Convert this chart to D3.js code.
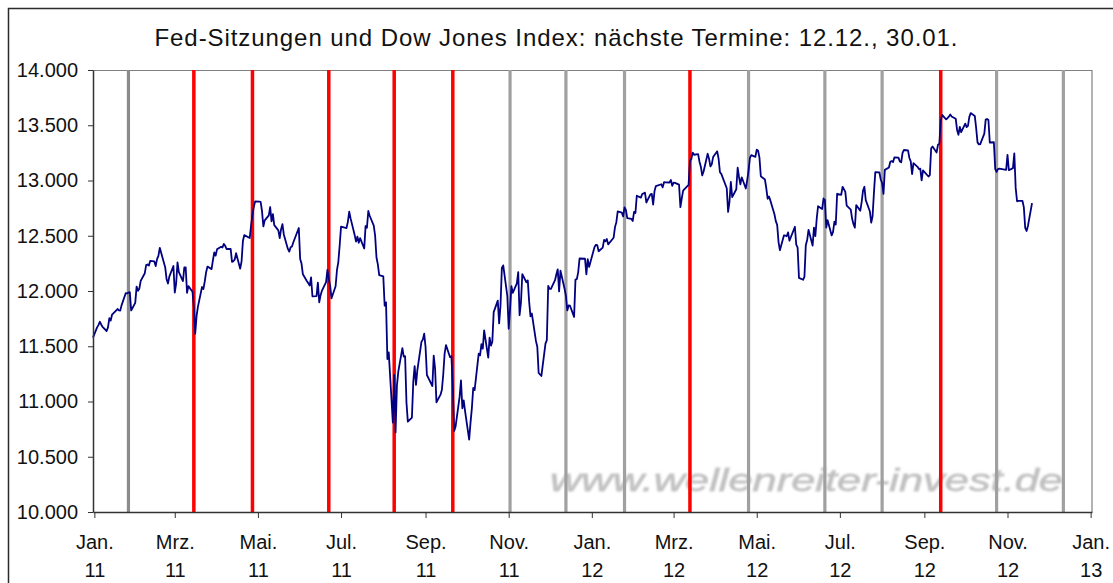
<!DOCTYPE html>
<html>
<head>
<meta charset="utf-8">
<script src="https://cdn.jsdelivr.net/npm/d3@7"></script>
<style>
  body { margin: 0; background: #fff; }
  svg { font-family: Arial, "Liberation Sans", sans-serif; }
</style>
</head>
<body>
<div id="chart"></div>
<script>
// chart title + watermark
var title = "Fed-Sitzungen und Dow Jones Index: nächste Termine: 12.12., 30.01.";
var watermark = "www.wellenreiter-invest.de";

// German month labels for the x axis
var monthNames = ["Jan.", "Feb.", "Mrz.", "Apr.", "Mai.", "Jun.", "Jul.", "Aug.", "Sep.", "Okt.", "Nov.", "Dez."];

// y axis ticks
var yTicks = [10000, 10500, 11000, 11500, 12000, 12500, 13000, 13500, 14000];

// FOMC meeting days
var fedMeetings = ["2011-01-26", "2011-03-15", "2011-04-27", "2011-06-22", "2011-08-09", "2011-09-21",
  "2011-11-02", "2011-12-13", "2012-01-25", "2012-03-13", "2012-04-25", "2012-06-20",
  "2012-08-01", "2012-09-13", "2012-10-24", "2012-12-12"];
// meetings marked red in the chart
var redMeetings = ["2011-03-15", "2011-04-27", "2011-06-22", "2011-08-09", "2011-09-21", "2012-03-13", "2012-09-13"];

// Dow Jones daily closes
var dow = [
  ["2010-12-31",11578],
  ["2011-01-03",11671],["2011-01-04",11691],["2011-01-05",11722],["2011-01-06",11697],["2011-01-07",11675],
  ["2011-01-10",11638],["2011-01-11",11671],["2011-01-12",11755],["2011-01-13",11732],["2011-01-14",11787],
  ["2011-01-18",11837],["2011-01-19",11825],["2011-01-20",11823],["2011-01-21",11872],["2011-01-24",11980],
  ["2011-01-25",11978],["2011-01-26",11985],["2011-01-27",11990],["2011-01-28",11824],["2011-01-31",11892],
  ["2011-02-01",12040],["2011-02-02",12002],["2011-02-03",12021],["2011-02-04",12092],["2011-02-07",12161],
  ["2011-02-08",12234],["2011-02-09",12240],["2011-02-10",12230],["2011-02-11",12273],["2011-02-14",12268],
  ["2011-02-15",12226],["2011-02-16",12288],["2011-02-17",12318],["2011-02-18",12391],["2011-02-22",12213],
  ["2011-02-23",12106],["2011-02-24",12068],["2011-02-25",12130],["2011-02-28",12226],
  ["2011-03-01",11986],["2011-03-02",12066],["2011-03-03",12258],["2011-03-04",12170],["2011-03-07",12090],
  ["2011-03-08",12214],["2011-03-09",12214],["2011-03-10",11984],["2011-03-11",12044],["2011-03-14",11993],
  ["2011-03-15",11855],["2011-03-16",11613],["2011-03-17",11775],["2011-03-18",11858],["2011-03-21",12036],
  ["2011-03-22",12018],["2011-03-23",12086],["2011-03-24",12170],["2011-03-25",12221],["2011-03-28",12198],
  ["2011-03-29",12280],["2011-03-30",12350],["2011-03-31",12320],
  ["2011-04-01",12377],["2011-04-04",12400],["2011-04-05",12394],["2011-04-06",12426],["2011-04-07",12409],
  ["2011-04-08",12380],["2011-04-11",12382],["2011-04-12",12263],["2011-04-13",12270],["2011-04-14",12285],
  ["2011-04-15",12342],["2011-04-18",12202],["2011-04-19",12267],["2011-04-20",12453],["2011-04-21",12506],
  ["2011-04-25",12480],["2011-04-26",12595],["2011-04-27",12690],["2011-04-28",12763],["2011-04-29",12811],
  ["2011-05-02",12808],["2011-05-03",12807],["2011-05-04",12724],["2011-05-05",12584],["2011-05-06",12639],
  ["2011-05-09",12684],["2011-05-10",12760],["2011-05-11",12630],["2011-05-12",12696],["2011-05-13",12596],
  ["2011-05-16",12549],["2011-05-17",12479],["2011-05-18",12560],["2011-05-19",12605],["2011-05-20",12512],
  ["2011-05-23",12381],["2011-05-24",12356],["2011-05-25",12395],["2011-05-26",12403],["2011-05-27",12441],
  ["2011-05-31",12570],
  ["2011-06-01",12290],["2011-06-02",12248],["2011-06-03",12151],["2011-06-06",12089],["2011-06-07",12070],
  ["2011-06-08",12049],["2011-06-09",12124],["2011-06-10",11952],["2011-06-13",11953],["2011-06-14",12076],
  ["2011-06-15",11898],["2011-06-16",11962],["2011-06-17",12004],["2011-06-20",12081],["2011-06-21",12191],
  ["2011-06-22",12110],["2011-06-23",12050],["2011-06-24",11934],["2011-06-27",12043],["2011-06-28",12188],
  ["2011-06-29",12262],["2011-06-30",12414],
  ["2011-07-01",12582],["2011-07-05",12570],["2011-07-06",12626],["2011-07-07",12719],["2011-07-08",12657],
  ["2011-07-11",12506],["2011-07-12",12447],["2011-07-13",12492],["2011-07-14",12437],["2011-07-15",12479],
  ["2011-07-18",12385],["2011-07-19",12588],["2011-07-20",12572],["2011-07-21",12724],["2011-07-22",12681],
  ["2011-07-25",12592],["2011-07-26",12501],["2011-07-27",12303],["2011-07-28",12241],["2011-07-29",12143],
  ["2011-08-01",12132],["2011-08-02",11867],["2011-08-03",11897],["2011-08-04",11384],["2011-08-05",11445],
  ["2011-08-08",10810],["2011-08-09",11240],["2011-08-10",10720],["2011-08-11",11144],["2011-08-12",11270],
  ["2011-08-15",11483],["2011-08-16",11406],["2011-08-17",11410],["2011-08-18",10991],["2011-08-19",10818],
  ["2011-08-22",10855],["2011-08-23",11177],["2011-08-24",11321],["2011-08-25",11150],["2011-08-26",11285],
  ["2011-08-29",11540],["2011-08-30",11560],["2011-08-31",11614],
  ["2011-09-01",11494],["2011-09-02",11240],["2011-09-06",11140],["2011-09-07",11415],["2011-09-08",11296],
  ["2011-09-09",10993],["2011-09-12",11062],["2011-09-13",11106],["2011-09-14",11247],["2011-09-15",11434],
  ["2011-09-16",11510],["2011-09-19",11401],["2011-09-20",11409],["2011-09-21",11125],["2011-09-22",10734],
  ["2011-09-23",10771],["2011-09-26",11044],["2011-09-27",11191],["2011-09-28",10939],["2011-09-29",11011],
  ["2011-09-30",10913],
  ["2011-10-03",10655],["2011-10-04",10809],["2011-10-05",10940],["2011-10-06",11124],["2011-10-07",11103],
  ["2011-10-10",11433],["2011-10-11",11417],["2011-10-12",11519],["2011-10-13",11478],["2011-10-14",11644],
  ["2011-10-17",11397],["2011-10-18",11578],["2011-10-19",11505],["2011-10-20",11542],["2011-10-21",11809],
  ["2011-10-24",11913],["2011-10-25",11707],["2011-10-26",11870],["2011-10-27",12209],["2011-10-28",12232],
  ["2011-10-31",11955],
  ["2011-11-01",11658],["2011-11-02",11836],["2011-11-03",12044],["2011-11-04",11983],["2011-11-07",12069],
  ["2011-11-08",12170],["2011-11-09",11781],["2011-11-10",11894],["2011-11-11",12153],["2011-11-14",12079],
  ["2011-11-15",12096],["2011-11-16",11906],["2011-11-17",11771],["2011-11-18",11796],["2011-11-21",11548],
  ["2011-11-22",11494],["2011-11-23",11258],["2011-11-25",11231],["2011-11-28",11524],["2011-11-29",11556],
  ["2011-11-30",12046],
  ["2011-12-01",12020],["2011-12-02",12019],["2011-12-05",12098],["2011-12-06",12151],["2011-12-07",12196],
  ["2011-12-08",11997],["2011-12-09",12184],["2011-12-12",12021],["2011-12-13",11955],["2011-12-14",11824],
  ["2011-12-15",11869],["2011-12-16",11867],["2011-12-19",11766],["2011-12-20",12103],["2011-12-21",12108],
  ["2011-12-22",12169],["2011-12-23",12294],["2011-12-27",12292],["2011-12-28",12151],["2011-12-29",12288],
  ["2011-12-30",12218],
  ["2012-01-03",12398],["2012-01-04",12418],["2012-01-05",12415],["2012-01-06",12360],["2012-01-09",12393],
  ["2012-01-10",12462],["2012-01-11",12449],["2012-01-12",12471],["2012-01-13",12422],["2012-01-17",12482],
  ["2012-01-18",12578],["2012-01-19",12623],["2012-01-20",12720],["2012-01-23",12709],["2012-01-24",12675],
  ["2012-01-25",12757],["2012-01-26",12734],["2012-01-27",12660],["2012-01-30",12653],["2012-01-31",12633],
  ["2012-02-01",12716],["2012-02-02",12706],["2012-02-03",12862],["2012-02-06",12845],["2012-02-07",12878],
  ["2012-02-08",12883],["2012-02-09",12890],["2012-02-10",12801],["2012-02-13",12874],["2012-02-14",12878],
  ["2012-02-15",12781],["2012-02-16",12904],["2012-02-17",12950],["2012-02-21",12966],["2012-02-22",12938],
  ["2012-02-23",12985],["2012-02-24",12983],["2012-02-27",12982],["2012-02-28",13005],["2012-02-29",12952],
  ["2012-03-01",12980],["2012-03-02",12978],["2012-03-05",12962],["2012-03-06",12759],["2012-03-07",12838],
  ["2012-03-08",12908],["2012-03-09",12922],["2012-03-12",12960],["2012-03-13",13178],["2012-03-14",13194],
  ["2012-03-15",13253],["2012-03-16",13233],["2012-03-19",13239],["2012-03-20",13170],["2012-03-21",13125],
  ["2012-03-22",13046],["2012-03-23",13081],["2012-03-26",13242],["2012-03-27",13198],["2012-03-28",13127],
  ["2012-03-29",13146],["2012-03-30",13212],
  ["2012-04-02",13264],["2012-04-03",13199],["2012-04-04",13075],["2012-04-05",13060],["2012-04-09",12930],
  ["2012-04-10",12716],["2012-04-11",12806],["2012-04-12",12987],["2012-04-13",12850],["2012-04-16",12921],
  ["2012-04-17",13116],["2012-04-18",13032],["2012-04-19",12965],["2012-04-20",13029],["2012-04-23",12928],
  ["2012-04-24",13002],["2012-04-25",13090],["2012-04-26",13204],["2012-04-27",13229],["2012-04-30",13214],
  ["2012-05-01",13280],["2012-05-02",13269],["2012-05-03",13207],["2012-05-04",13038],["2012-05-07",13009],
  ["2012-05-08",12932],["2012-05-09",12835],["2012-05-10",12855],["2012-05-11",12820],["2012-05-14",12695],
  ["2012-05-15",12632],["2012-05-16",12599],["2012-05-17",12443],["2012-05-18",12369],["2012-05-21",12504],
  ["2012-05-22",12502],["2012-05-23",12496],["2012-05-24",12530],["2012-05-25",12455],["2012-05-29",12581],
  ["2012-05-30",12419],["2012-05-31",12393],
  ["2012-06-01",12119],["2012-06-04",12102],["2012-06-05",12127],["2012-06-06",12414],["2012-06-07",12461],
  ["2012-06-08",12554],["2012-06-11",12411],["2012-06-12",12574],["2012-06-13",12497],["2012-06-14",12652],
  ["2012-06-15",12767],["2012-06-18",12742],["2012-06-19",12837],["2012-06-20",12824],["2012-06-21",12574],
  ["2012-06-22",12641],["2012-06-25",12503],["2012-06-26",12535],["2012-06-27",12627],["2012-06-28",12602],
  ["2012-06-29",12880],
  ["2012-07-02",12871],["2012-07-03",12943],["2012-07-05",12897],["2012-07-06",12772],["2012-07-09",12736],
  ["2012-07-10",12653],["2012-07-11",12604],["2012-07-12",12573],["2012-07-13",12777],["2012-07-16",12727],
  ["2012-07-17",12806],["2012-07-18",12909],["2012-07-19",12943],["2012-07-20",12822],["2012-07-23",12722],
  ["2012-07-24",12618],["2012-07-25",12677],["2012-07-26",12888],["2012-07-27",13076],["2012-07-30",13074],
  ["2012-07-31",13009],
  ["2012-08-01",12977],["2012-08-02",12879],["2012-08-03",13096],["2012-08-06",13118],["2012-08-07",13169],
  ["2012-08-08",13176],["2012-08-09",13166],["2012-08-10",13208],["2012-08-13",13207],["2012-08-14",13172],
  ["2012-08-15",13165],["2012-08-16",13250],["2012-08-17",13276],["2012-08-20",13272],["2012-08-21",13204],
  ["2012-08-22",13173],["2012-08-23",13057],["2012-08-24",13158],["2012-08-27",13124],["2012-08-28",13103],
  ["2012-08-29",13108],["2012-08-30",13001],["2012-08-31",13091],
  ["2012-09-04",13036],["2012-09-05",13048],["2012-09-06",13292],["2012-09-07",13307],["2012-09-10",13254],
  ["2012-09-11",13324],["2012-09-12",13333],["2012-09-13",13540],["2012-09-14",13594],["2012-09-17",13553],
  ["2012-09-18",13565],["2012-09-19",13578],["2012-09-20",13597],["2012-09-21",13580],["2012-09-24",13559],
  ["2012-09-25",13458],["2012-09-26",13414],["2012-09-27",13486],["2012-09-28",13437],
  ["2012-10-01",13515],["2012-10-02",13483],["2012-10-03",13495],["2012-10-04",13576],["2012-10-05",13610],
  ["2012-10-08",13584],["2012-10-09",13474],["2012-10-10",13345],["2012-10-11",13327],["2012-10-12",13329],
  ["2012-10-15",13424],["2012-10-16",13551],["2012-10-17",13557],["2012-10-18",13548],["2012-10-19",13344],
  ["2012-10-22",13346],["2012-10-23",13103],["2012-10-24",13078],["2012-10-25",13104],["2012-10-26",13107],
  ["2012-10-31",13096],
  ["2012-11-01",13232],["2012-11-02",13093],["2012-11-05",13112],["2012-11-06",13246],["2012-11-07",12933],
  ["2012-11-08",12812],["2012-11-09",12815],["2012-11-12",12815],["2012-11-13",12757],["2012-11-14",12571],
  ["2012-11-15",12543],["2012-11-16",12589],["2012-11-19",12796]
];

var svgWidth = 1113;
var svgHeight = 583;

var margin = { top: 70, right: 21, bottom: 71, left: 93 },
    width = svgWidth - margin.left - margin.right,
    height = svgHeight - margin.top - margin.bottom;

var parseDate = d3.timeParse("%Y-%m-%d");
var data = dow.map(function (d) { return { date: parseDate(d[0]), close: d[1] }; });

var de = d3.formatLocale({ decimal: ",", thousands: ".", grouping: [3], currency: ["", " €"] });
var fmt = de.format(",.0f");

var svg = d3.select("#chart")
  .append("svg")
  .attr("width", svgWidth)
  .attr("height", svgHeight);

// outer frame
svg.append("rect")
  .attr("x", 8.5).attr("y", 8.5)
  .attr("width", svgWidth + 10).attr("height", svgHeight + 10)
  .attr("fill", "none")
  .attr("stroke", "#2b2b2b")
  .attr("stroke-width", 1.5);

svg.append("text")
  .attr("x", 556)
  .attr("y", 46)
  .attr("text-anchor", "middle")
  .attr("font-size", 24)
  .attr("fill", "#111")
  .attr("textLength", 803)
  .attr("lengthAdjust", "spacing")
  .text(title);

var chartGroup = svg.append("g")
  .attr("transform", "translate(" + margin.left + "," + margin.top + ")");

var x = d3.scaleTime()
  .domain([new Date(2010, 11, 31), new Date(2013, 0, 2)])
  .range([0, width]);

var y = d3.scaleLinear()
  .domain([10000, 14000])
  .range([height, 0]);

// watermark (behind everything)
var blur = svg.append("defs").append("filter").attr("id", "soft");
blur.append("feGaussianBlur").attr("stdDeviation", 0.8);

chartGroup.append("text")
  .attr("x", 457)
  .attr("y", 421)
  .attr("font-size", 32)
  .attr("font-style", "italic")
  .attr("fill", "#bfbfbf")
  .attr("stroke", "#c8c8c8")
  .attr("stroke-width", 0.8)
  .attr("textLength", 513)
  .attr("lengthAdjust", "spacingAndGlyphs")
  .attr("filter", "url(#soft)")
  .text(watermark);

// top & right frame
chartGroup.append("path")
  .attr("d", "M0,0.5H" + width + "V" + height)
  .attr("fill", "none")
  .attr("stroke", "#808080")
  .attr("stroke-width", 1.2);

// fed meeting lines
chartGroup.append("g")
  .selectAll("line")
  .data(fedMeetings)
  .enter()
  .append("line")
    .attr("x1", function (d) { return x(parseDate(d)); })
    .attr("x2", function (d) { return x(parseDate(d)); })
    .attr("y1", 0)
    .attr("y2", height)
    .attr("stroke", function (d, i) {
      if (redMeetings.indexOf(d) >= 0) return "#ff0000";
      return i == 0 ? "#8c8c8c" : "#a0a0a0";
    })
    .attr("stroke-width", function (d) { return redMeetings.indexOf(d) >= 0 ? 3.5 : 3.2; });

// dow line
var line = d3.line()
  .x(function (d) { return x(d.date); })
  .y(function (d) { return y(d.close); });

chartGroup.append("path")
  .datum(data)
  .attr("fill", "none")
  .attr("stroke", "#000080")
  .attr("stroke-width", 1.8)
  .attr("stroke-linejoin", "round")
  .attr("d", line);

// y axis
var yAxis = chartGroup.append("g")
  .call(d3.axisLeft(y).tickValues(yTicks).tickFormat(fmt).tickSize(5).tickSizeOuter(0).tickPadding(10));
yAxis.select(".domain").attr("stroke", "#333").attr("stroke-width", 1.5);
yAxis.selectAll("line").attr("stroke", "#333");
yAxis.selectAll("text").attr("font-size", 20).attr("fill", "#111").attr("font-family", "Arial, 'Liberation Sans', sans-serif");

// x axis, every second month
var xTicks = d3.timeMonth.range(new Date(2011, 0, 1), new Date(2013, 0, 2), 2);
var xAxis = chartGroup.append("g")
  .attr("transform", "translate(0," + height + ")")
  .call(d3.axisBottom(x).tickValues(xTicks).tickSize(6).tickSizeOuter(0).tickFormat(""));
xAxis.select(".domain").attr("stroke", "#333").attr("stroke-width", 1.5);
xAxis.selectAll("line").attr("stroke", "#333");

var lbl = xAxis.selectAll(".tick").append("text")
  .attr("fill", "#111")
  .attr("font-size", 20)
  .attr("font-family", "Arial, 'Liberation Sans', sans-serif")
  .attr("text-anchor", "middle");
lbl.append("tspan").attr("x", 0).attr("y", 37)
  .text(function (d) { return monthNames[d.getMonth()]; });
lbl.append("tspan").attr("x", 0).attr("y", 65)
  .text(function (d) { return String(d.getFullYear()).slice(2); });
</script>
</body>
</html>
